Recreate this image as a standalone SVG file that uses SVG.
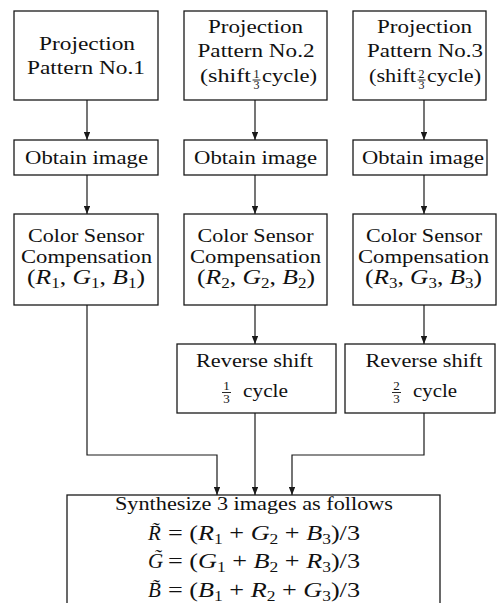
<svg xmlns="http://www.w3.org/2000/svg" width="497" height="603" viewBox="0 0 497 603">
<style>
.b{fill:#fff;stroke:#1a1a1a;stroke-width:1.3}
.c{fill:none;stroke:#1a1a1a;stroke-width:1.2}
.t{font-family:"Liberation Serif","Times New Roman",serif;font-size:19px;fill:#111}
.mt{font-family:"Liberation Serif","Times New Roman",serif;font-size:21px;fill:#111}
.m{text-anchor:middle}
.i{font-style:italic}
.s{font-size:14px}
.f{font-family:"Liberation Serif","Times New Roman",serif;font-size:12px;fill:#111;text-anchor:middle}
.f2{font-family:"Liberation Serif","Times New Roman",serif;font-size:13px;fill:#111;text-anchor:middle}
.fb{stroke:#111;stroke-width:0.9}
</style>
<defs>
<marker id="ah" viewBox="0 0 10 8" refX="10" refY="4" markerWidth="8" markerHeight="6.4" markerUnits="userSpaceOnUse" orient="auto">
<path d="M0,0 L10,4 L0,8 z" fill="#1a1a1a"/>
</marker>
</defs>
<rect width="497" height="603" fill="#fff"/>

<g id="connectors">
<path class="c" d="M87,100 V140" marker-end="url(#ah)"/>
<path class="c" d="M87,175 V214" marker-end="url(#ah)"/>
<path class="c" d="M87,305 V455 H217 V495" marker-end="url(#ah)"/>
<path class="c" d="M255,100 V140" marker-end="url(#ah)"/>
<path class="c" d="M255,175 V214" marker-end="url(#ah)"/>
<path class="c" d="M255,305 V344" marker-end="url(#ah)"/>
<path class="c" d="M255,413 V495" marker-end="url(#ah)"/>
<path class="c" d="M424,100 V140" marker-end="url(#ah)"/>
<path class="c" d="M424,175 V214" marker-end="url(#ah)"/>
<path class="c" d="M424,305 V344" marker-end="url(#ah)"/>
<path class="c" d="M424,413 V455 H292 V495" marker-end="url(#ah)"/>
</g>

<g id="p1">
<rect class="b" x="14" y="11" width="144" height="89"/>
<text class="t m" x="87" y="50" textLength="96" lengthAdjust="spacingAndGlyphs">Projection</text>
<text class="t m" x="86" y="74" textLength="118" lengthAdjust="spacingAndGlyphs">Pattern No.1</text>
</g>
<g id="p2">
<rect class="b" x="184" y="11" width="143" height="89"/>
<text class="t m" x="255.5" y="33" textLength="95" lengthAdjust="spacingAndGlyphs">Projection</text>
<text class="t m" x="256" y="57" textLength="117" lengthAdjust="spacingAndGlyphs">Pattern No.2</text>
<text class="t" x="200" y="82" textLength="51" lengthAdjust="spacingAndGlyphs">(shift</text>
<text class="f"><tspan x="256.5" y="78">1</tspan><tspan x="256.5" y="89">3</tspan></text>
<line class="fb" x1="252.5" y1="80" x2="260.5" y2="80"/>
<text class="t" x="262" y="82" textLength="55" lengthAdjust="spacingAndGlyphs">cycle)</text>
</g>
<g id="p3">
<rect class="b" x="353" y="11" width="133" height="89"/>
<text class="t m" x="424.5" y="33" textLength="95" lengthAdjust="spacingAndGlyphs">Projection</text>
<text class="t m" x="425" y="57" textLength="116" lengthAdjust="spacingAndGlyphs">Pattern No.3</text>
<text class="t" x="369" y="82" textLength="47" lengthAdjust="spacingAndGlyphs">(shift</text>
<text class="f"><tspan x="421.5" y="78">2</tspan><tspan x="421.5" y="89">3</tspan></text>
<line class="fb" x1="417.5" y1="80" x2="425.5" y2="80"/>
<text class="t" x="427" y="82" textLength="54" lengthAdjust="spacingAndGlyphs">cycle)</text>
</g>

<g id="o1">
<rect class="b" x="14" y="140" width="144" height="35"/>
<text class="t m" x="86.5" y="164" textLength="123" lengthAdjust="spacingAndGlyphs">Obtain image</text>
</g>
<g id="o2">
<rect class="b" x="184" y="140" width="143" height="35"/>
<text class="t m" x="255.5" y="164" textLength="123" lengthAdjust="spacingAndGlyphs">Obtain image</text>
</g>
<g id="o3">
<rect class="b" x="353" y="140" width="134" height="35"/>
<text class="t m" x="423" y="164" textLength="122" lengthAdjust="spacingAndGlyphs">Obtain image</text>
</g>

<g id="c1">
<rect class="b" x="14" y="214" width="144" height="91"/>
<text class="t m" x="86" y="242" textLength="116" lengthAdjust="spacingAndGlyphs">Color Sensor</text>
<text class="t m" x="86.5" y="263" textLength="131" lengthAdjust="spacingAndGlyphs">Compensation</text>
<text class="mt" x="27" y="284" textLength="118" lengthAdjust="spacingAndGlyphs">(<tspan class="i">R</tspan><tspan class="s" dy="4">1</tspan><tspan dy="-4">, </tspan><tspan class="i">G</tspan><tspan class="s" dy="4">1</tspan><tspan dy="-4">, </tspan><tspan class="i">B</tspan><tspan class="s" dy="4">1</tspan><tspan dy="-4">)</tspan></text>
</g>
<g id="c2">
<rect class="b" x="184" y="214" width="143" height="91"/>
<text class="t m" x="255.5" y="242" textLength="116" lengthAdjust="spacingAndGlyphs">Color Sensor</text>
<text class="t m" x="255.5" y="263" textLength="131" lengthAdjust="spacingAndGlyphs">Compensation</text>
<text class="mt" x="197" y="284" textLength="118" lengthAdjust="spacingAndGlyphs">(<tspan class="i">R</tspan><tspan class="s" dy="4">2</tspan><tspan dy="-4">, </tspan><tspan class="i">G</tspan><tspan class="s" dy="4">2</tspan><tspan dy="-4">, </tspan><tspan class="i">B</tspan><tspan class="s" dy="4">2</tspan><tspan dy="-4">)</tspan></text>
</g>
<g id="c3">
<rect class="b" x="353" y="214" width="143" height="91"/>
<text class="t m" x="424" y="242" textLength="116" lengthAdjust="spacingAndGlyphs">Color Sensor</text>
<text class="t m" x="423.5" y="263" textLength="131" lengthAdjust="spacingAndGlyphs">Compensation</text>
<text class="mt" x="365" y="284" textLength="117" lengthAdjust="spacingAndGlyphs">(<tspan class="i">R</tspan><tspan class="s" dy="4">3</tspan><tspan dy="-4">, </tspan><tspan class="i">G</tspan><tspan class="s" dy="4">3</tspan><tspan dy="-4">, </tspan><tspan class="i">B</tspan><tspan class="s" dy="4">3</tspan><tspan dy="-4">)</tspan></text>
</g>

<g id="r1">
<rect class="b" x="177" y="344" width="159" height="69"/>
<text class="t m" x="254.5" y="367" textLength="117" lengthAdjust="spacingAndGlyphs">Reverse shift</text>
<text class="f2"><tspan x="226.5" y="390">1</tspan><tspan x="226.5" y="403">3</tspan></text>
<line class="fb" x1="222" y1="392.5" x2="231" y2="392.5"/>
<text class="t" x="243" y="397" textLength="45" lengthAdjust="spacingAndGlyphs">cycle</text>
</g>
<g id="r2">
<rect class="b" x="345" y="344" width="150" height="69"/>
<text class="t m" x="424" y="367" textLength="117" lengthAdjust="spacingAndGlyphs">Reverse shift</text>
<text class="f2"><tspan x="396.5" y="390">2</tspan><tspan x="396.5" y="403">3</tspan></text>
<line class="fb" x1="392" y1="392.5" x2="401" y2="392.5"/>
<text class="t" x="413" y="397" textLength="44" lengthAdjust="spacingAndGlyphs">cycle</text>
</g>

<g id="s">
<rect class="b" x="67" y="495" width="373" height="130"/>
<text class="t m" x="254" y="510" textLength="278" lengthAdjust="spacingAndGlyphs">Synthesize 3 images as follows</text>
<text class="mt i" x="148" y="540">R̃</text>
<text class="mt" x="168" y="540" textLength="192" lengthAdjust="spacingAndGlyphs">= (<tspan class="i">R</tspan><tspan class="s" dy="4">1</tspan><tspan dy="-4"> + </tspan><tspan class="i">G</tspan><tspan class="s" dy="4">2</tspan><tspan dy="-4"> + </tspan><tspan class="i">B</tspan><tspan class="s" dy="4">3</tspan><tspan dy="-4">)/3</tspan></text>
<text class="mt i" x="148" y="568">G̃</text>
<text class="mt" x="168" y="568" textLength="192" lengthAdjust="spacingAndGlyphs">= (<tspan class="i">G</tspan><tspan class="s" dy="4">1</tspan><tspan dy="-4"> + </tspan><tspan class="i">B</tspan><tspan class="s" dy="4">2</tspan><tspan dy="-4"> + </tspan><tspan class="i">R</tspan><tspan class="s" dy="4">3</tspan><tspan dy="-4">)/3</tspan></text>
<text class="mt i" x="148" y="597">B̃</text>
<text class="mt" x="168" y="597" textLength="192" lengthAdjust="spacingAndGlyphs">= (<tspan class="i">B</tspan><tspan class="s" dy="4">1</tspan><tspan dy="-4"> + </tspan><tspan class="i">R</tspan><tspan class="s" dy="4">2</tspan><tspan dy="-4"> + </tspan><tspan class="i">G</tspan><tspan class="s" dy="4">3</tspan><tspan dy="-4">)/3</tspan></text>
</g>
</svg>
